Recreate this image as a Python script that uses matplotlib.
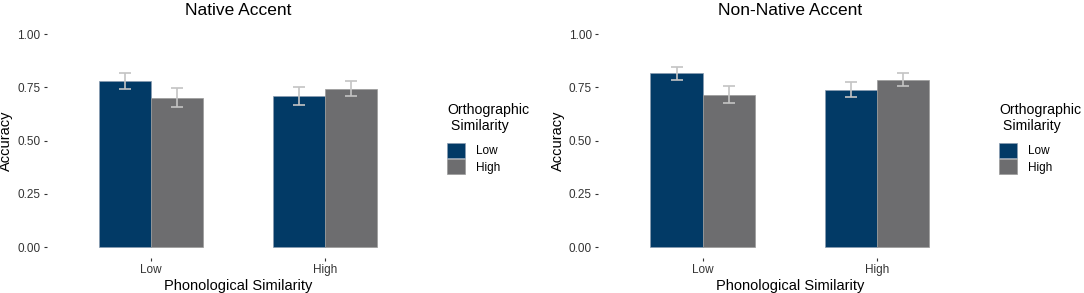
import matplotlib
matplotlib.use("Agg")
import matplotlib.pyplot as plt
import numpy as np

plt.rcParams['font.family'] = ['Liberation Sans', 'DejaVu Sans']

phon_levels = ["Low", "High"]
ortho_levels = ["Low", "High"]
titles = ["Native Accent", "Non-Native Accent"]

# accuracy by orthographic level, indexed by phonological level
native_low = [0.779, 0.710]
native_high = [0.701, 0.743]
native_low_err = [0.039, 0.041]
native_high_err = [0.044, 0.036]

nonnative_low = [0.815, 0.739]
nonnative_high = [0.715, 0.786]
nonnative_low_err = [0.032, 0.037]
nonnative_high_err = [0.039, 0.030]

panels = [
    (native_low, native_high, native_low_err, native_high_err),
    (nonnative_low, nonnative_high, nonnative_low_err, nonnative_high_err),
]

colors = {"Low": "#023a66", "High": "#6d6d6f"}
err_color = "#c4c4c4"

fig = plt.figure(figsize=(10.84, 2.93), dpi=100)
axes_pos = [[0.043, 0.1206, 0.353, 0.7997], [0.5517, 0.1206, 0.354, 0.7997]]
legend_x = [0.4125, 0.9215]

for i, (lo, hi, lo_e, hi_e) in enumerate(panels):
    ax = fig.add_axes(axes_pos[i])
    x = np.arange(1, len(phon_levels) + 1)
    w = 0.3
    b1 = ax.bar(x - w / 2, lo, width=w, color=colors["Low"], edgecolor="#8a9bb0", linewidth=0.5, label="Low")
    b2 = ax.bar(x + w / 2, hi, width=w, color=colors["High"], edgecolor="#9a9a9a", linewidth=0.5, label="High")
    ax.errorbar(x - w / 2, lo, yerr=lo_e, fmt="none", ecolor=err_color, elinewidth=1.2, capsize=4, capthick=1.2)
    ax.errorbar(x + w / 2, hi, yerr=hi_e, fmt="none", ecolor=err_color, elinewidth=1.2, capsize=4, capthick=1.2)
    ax.set_xlim(0.4, 2.6)
    ax.set_ylim(-0.05, 1.05)
    ax.set_yticks([0, 0.25, 0.5, 0.75, 1.0])
    ax.set_yticklabels(["0.00", "0.25", "0.50", "0.75", "1.00"])
    ax.set_xticks(x)
    ax.set_xticklabels(phon_levels)
    for s in ax.spines.values():
        s.set_visible(False)
    ax.tick_params(axis="both", length=2.5, width=0.8, color="#333333", labelsize=8.5, labelcolor="#333333", pad=2)
    ax.set_xlabel("Phonological Similarity", fontsize=10.5, labelpad=2.5)
    ax.set_ylabel("Accuracy", fontsize=10.5, labelpad=3)
    ax.set_title(titles[i], fontsize=12.5, pad=6)
    leg = fig.legend(handles=[b1, b2], labels=ortho_levels, title="Orthographic\n Similarity",
                     loc="upper left", bbox_to_anchor=(legend_x[i], 0.648), frameon=False,
                     fontsize=8.5, title_fontsize=10.2, handlelength=1.55, handleheight=1.55,
                     handletextpad=0.9, labelspacing=0.12, borderaxespad=0, borderpad=0)
    leg._legend_box.align = "left"
    leg._legend_box.sep = 7

fig.savefig("out.png", dpi=100)
